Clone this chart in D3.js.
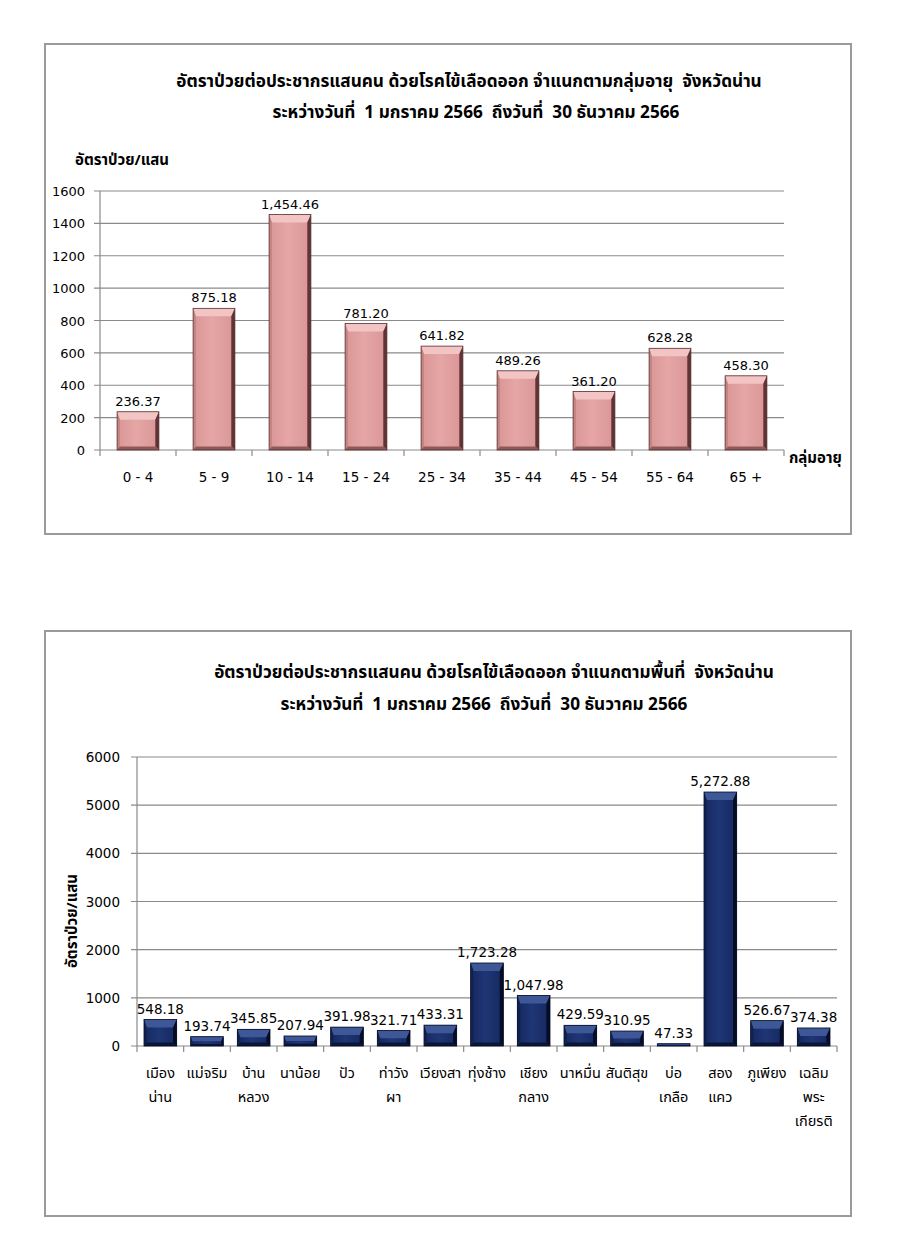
<!DOCTYPE html>
<meta charset="UTF-8">
<head>
    <script src="https://d3js.org/d3.v7.min.js"></script>
    <style>
        body { margin: 0; background: #fff; }
        .num { font: 13px "DejaVu Sans", Verdana, sans-serif; fill: #000; }
        .thai { font-family: Tahoma, "Noto Sans Thai", "Noto Sans Thai UI", "Noto Sans", sans-serif; fill: #000; white-space: pre; }
        .grid line { stroke: #8a8a8a; stroke-width: 1.2px; }
        .frame { fill: none; stroke: #9a9a9a; stroke-width: 2px; }
    </style>
</head>
<body>
<script>
    // ---- data ----
    var ageGroups = ["0 - 4", "5 - 9", "10 - 14", "15 - 24", "25 - 34", "35 - 44", "45 - 54", "55 - 64", "65 +"];
    var ageRates = [236.37, 875.18, 1454.46, 781.20, 641.82, 489.26, 361.20, 628.28, 458.30];
    var ageTicks = [0, 200, 400, 600, 800, 1000, 1200, 1400, 1600];

    var districts = [
        ["เมือง", "น่าน"], ["แม่จริม"], ["บ้าน", "หลวง"], ["นาน้อย"], ["ปัว"],
        ["ท่าวัง", "ผา"], ["เวียงสา"], ["ทุ่งช้าง"], ["เชียง", "กลาง"], ["นาหมื่น"],
        ["สันติสุข"], ["บ่อ", "เกลือ"], ["สอง", "แคว"], ["ภูเพียง"], ["เฉลิม", "พระ", "เกียรติ"]
    ];
    var districtRates = [548.18, 193.74, 345.85, 207.94, 391.98, 321.71, 433.31, 1723.28, 1047.98, 429.59, 310.95, 47.33, 5272.88, 526.67, 374.38];
    var districtTicks = [0, 1000, 2000, 3000, 4000, 5000, 6000];

    var title1a = "อัตราป่วยต่อประชากรแสนคน ด้วยโรคไข้เลือดออก จำแนกตามกลุ่มอายุ  จังหวัดน่าน";
    var title2a = "อัตราป่วยต่อประชากรแสนคน ด้วยโรคไข้เลือดออก จำแนกตามพื้นที่  จังหวัดน่าน";
    var subTitle = "ระหว่างวันที่  1 มกราคม 2566  ถึงวันที่  30 ธันวาคม 2566";
    var yLabel = "อัตราป่วย/แสน";
    var xLabel = "กลุ่มอายุ";

    var fmt = d3.format(",.2f");

    var svg = d3.select("body").append("svg")
        .attr("width", 900)
        .attr("height", 1259);

    // face gradients for the two bar colours
    var defs = svg.append("defs");
    function faceGrad(id, a, b) {
        var g = defs.append("linearGradient").attr("id", id).attr("x1", 0).attr("x2", 1).attr("y1", 0).attr("y2", 0);
        g.append("stop").attr("offset", "0%").attr("stop-color", a);
        g.append("stop").attr("offset", "45%").attr("stop-color", b);
        g.append("stop").attr("offset", "100%").attr("stop-color", a);
    }
    faceGrad("pinkFace", "#d99595", "#e6a6a6");
    faceGrad("navyFace", "#15285f", "#1f3676");

    // frames
    svg.append("rect").attr("class", "frame").attr("x", 45).attr("y", 44).attr("width", 806).attr("height", 490);
    svg.append("rect").attr("class", "frame").attr("x", 45).attr("y", 631).attr("width", 806).attr("height", 585);

    // draws a bevelled bar (like the Excel 3D "bevel" style)
    function bevelBars(g, data, x, y, bev, cols) {
        var bars = g.selectAll("g.bar").data(data).enter().append("g").attr("class", "bar");
        bars.each(function (d) {
            var x0 = x(d.k), x1 = x0 + x.bandwidth(), y0 = y(d.v), y1 = y(0);
            var b = Math.min(bev, (y1 - y0) / 2);
            var sL = b * 0.35, sR = b * 0.45, sB = b * 0.45;
            var s = d3.select(this);
            s.append("rect").attr("x", x0).attr("y", y0).attr("width", x1 - x0).attr("height", y1 - y0)
                .attr("fill", cols.face);
            s.append("polygon").attr("fill", cols.top)
                .attr("points", [[x0, y0], [x1, y0], [x1 - sR, y0 + b], [x0 + sL, y0 + b]].join(" "));
            s.append("polygon").attr("fill", cols.left)
                .attr("points", [[x0, y0], [x0 + sL, y0 + b], [x0 + sL, y1 - sB], [x0, y1]].join(" "));
            s.append("polygon").attr("fill", cols.right)
                .attr("points", [[x1, y0], [x1 - sR, y0 + b], [x1 - sR, y1 - sB], [x1, y1]].join(" "));
            s.append("polygon").attr("fill", cols.bottom)
                .attr("points", [[x0, y1], [x0 + sL, y1 - sB], [x1 - sR, y1 - sB], [x1, y1]].join(" "));
            s.append("rect").attr("x", x0).attr("y", y0).attr("width", x1 - x0).attr("height", y1 - y0)
                .attr("fill", "none").attr("stroke", cols.edge).attr("stroke-width", 0.8);
        });
    }

    // ****************** chart 1: age groups ******************
    var c1 = svg.append("g");
    var x1 = d3.scaleBand().domain(ageGroups).range([100, 784]).paddingInner(0.45).paddingOuter(0.225);
    var xb1 = d3.scaleBand().domain(ageGroups).range([100, 784]);
    var y1 = d3.scaleLinear().domain([0, 1600]).range([450, 191]);

    c1.append("text").attr("class", "thai").attr("x", 469).attr("y", 87)
        .attr("text-anchor", "middle").style("font-size", "17.2px").style("font-weight", "bold").text(title1a);
    c1.append("text").attr("class", "thai").attr("x", 476).attr("y", 118)
        .attr("text-anchor", "middle").style("font-size", "17.2px").style("font-weight", "bold").text(subTitle);
    c1.append("text").attr("class", "thai").attr("x", 75).attr("y", 165)
        .style("font-size", "15px").style("font-weight", "bold").text(yLabel);
    c1.append("text").attr("class", "thai").attr("x", 789).attr("y", 463)
        .style("font-size", "15px").style("font-weight", "bold").text(xLabel);

    c1.append("g").attr("class", "grid")
        .selectAll("line").data(ageTicks).enter().append("line")
        .attr("x1", 94).attr("x2", 784)
        .attr("y1", function (d) { return y1(d); }).attr("y2", function (d) { return y1(d); });
    c1.append("line").attr("x1", 100).attr("x2", 100).attr("y1", y1(1600)).attr("y2", y1(0))
        .attr("stroke", "#8a8a8a").attr("stroke-width", 1.2);
    c1.append("g").attr("class", "grid").selectAll("line")
        .data(ageGroups.map(function (d) { return xb1(d); }).concat([784])).enter().append("line")
        .attr("x1", function (d) { return d; }).attr("x2", function (d) { return d; })
        .attr("y1", y1(0)).attr("y2", y1(0) + 6);

    c1.selectAll("text.yt").data(ageTicks).enter().append("text").attr("class", "num yt")
        .attr("x", 85).attr("y", function (d) { return y1(d) + 5; })
        .attr("text-anchor", "end").text(function (d) { return d; });
    c1.selectAll("text.xt").data(ageGroups).enter().append("text").attr("class", "num xt")
        .style("font-size", "13.5px")
        .attr("x", function (d) { return xb1(d) + xb1.bandwidth() / 2; }).attr("y", 482)
        .attr("text-anchor", "middle").text(function (d) { return d; });

    bevelBars(c1, ageGroups.map(function (k, i) { return { k: k, v: ageRates[i] }; }), x1, y1, 8,
        { face: "url(#pinkFace)", top: "#f2c4c4", left: "#c48484", right: "#5e3434", bottom: "#8e5858", edge: "#5a3030" });

    c1.selectAll("text.val").data(ageRates).enter().append("text").attr("class", "num val")
        .attr("x", function (d, i) { return x1(ageGroups[i]) + x1.bandwidth() / 2; })
        .attr("y", function (d) { return y1(d) - 6; })
        .attr("text-anchor", "middle").text(function (d) { return fmt(d); });

    // ****************** chart 2: districts ******************
    var c2 = svg.append("g");
    var keys = districts.map(function (d) { return d.join(""); });
    var x2 = d3.scaleBand().domain(keys).range([137, 837]).paddingInner(0.3).paddingOuter(0.15);
    var xb2 = d3.scaleBand().domain(keys).range([137, 837]);
    var y2 = d3.scaleLinear().domain([0, 6000]).range([1046, 757]);

    c2.append("text").attr("class", "thai").attr("x", 494).attr("y", 678)
        .attr("text-anchor", "middle").style("font-size", "17.2px").style("font-weight", "bold").text(title2a);
    c2.append("text").attr("class", "thai").attr("x", 484).attr("y", 710)
        .attr("text-anchor", "middle").style("font-size", "17.2px").style("font-weight", "bold").text(subTitle);
    c2.append("text").attr("class", "thai")
        .attr("transform", "translate(77,921) rotate(-90)")
        .attr("text-anchor", "middle").style("font-size", "15px").style("font-weight", "bold").text(yLabel);

    c2.append("g").attr("class", "grid")
        .selectAll("line").data(districtTicks).enter().append("line")
        .attr("x1", 131).attr("x2", 837)
        .attr("y1", function (d) { return y2(d); }).attr("y2", function (d) { return y2(d); });
    c2.append("line").attr("x1", 137).attr("x2", 137).attr("y1", y2(6000)).attr("y2", y2(0))
        .attr("stroke", "#8a8a8a").attr("stroke-width", 1.2);
    c2.append("g").attr("class", "grid").selectAll("line")
        .data(keys.map(function (d) { return xb2(d); }).concat([837])).enter().append("line")
        .attr("x1", function (d) { return d; }).attr("x2", function (d) { return d; })
        .attr("y1", y2(0)).attr("y2", y2(0) + 6);

    c2.selectAll("text.yt").data(districtTicks).enter().append("text").attr("class", "num yt")
        .style("font-size", "13.5px")
        .attr("x", 120).attr("y", function (d) { return y2(d) + 5; })
        .attr("text-anchor", "end").text(function (d) { return d; });

    var xt = c2.selectAll("text.xt").data(districts).enter().append("text").attr("class", "thai xt")
        .style("font-size", "14.5px")
        .attr("text-anchor", "middle")
        .attr("x", function (d) { return xb2(d.join("")) + xb2.bandwidth() / 2; })
        .attr("y", 1078);
    xt.selectAll("tspan").data(function (d) { return d; }).enter().append("tspan")
        .attr("x", function () { var p = d3.select(this.parentNode).datum(); return xb2(p.join("")) + xb2.bandwidth() / 2; })
        .attr("dy", function (d, i) { return i === 0 ? 0 : 24; })
        .text(function (d) { return d; });

    bevelBars(c2, keys.map(function (k, i) { return { k: k, v: districtRates[i] }; }), x2, y2, 8,
        { face: "url(#navyFace)", top: "#3d5797", left: "#12224f", right: "#050c25", bottom: "#0a1638", edge: "#050c25" });

    c2.selectAll("text.val").data(districtRates).enter().append("text").attr("class", "num val")
        .style("font-size", "13.5px")
        .attr("x", function (d, i) { return x2(keys[i]) + x2.bandwidth() / 2; })
        .attr("y", function (d) { return y2(d) - 6; })
        .attr("text-anchor", "middle").text(function (d) { return fmt(d); });
</script>
</body>
